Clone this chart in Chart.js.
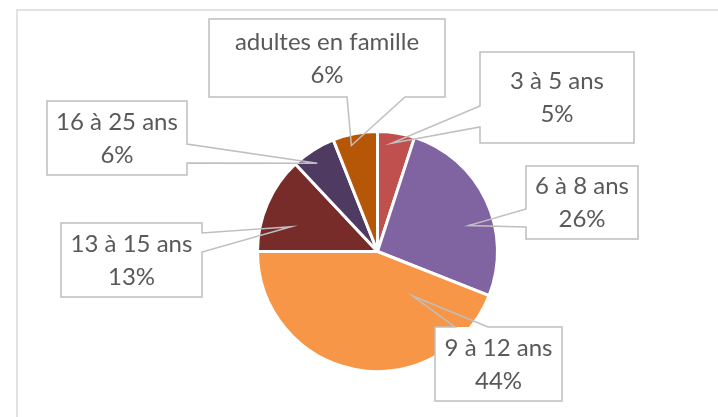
<!DOCTYPE html>
<html>
<head>
<meta charset="utf-8">
<script src="https://cdn.jsdelivr.net/npm/chart.js@4"></script>
<style>
  html, body { margin: 0; padding: 0; background: #fff; }
  #wrap { width: 718px; height: 417px; position: relative; }
</style>
</head>
<body>
<div id="wrap"><canvas id="chart"></canvas></div>
<script>
// données
const categories = ['3 à 5 ans', '6 à 8 ans', '9 à 12 ans', '13 à 15 ans', '16 à 25 ans', 'adultes en famille'];
const shares = [5, 26, 44, 13, 6, 6];
const sliceColors = ['#C0504D', '#8064A2', '#F79646', '#772C2A', '#4F3B62', '#B65708'];

// placement des étiquettes (boîte + point d'ancrage dans la part)
// side = côté de la boîte d'où part la flèche, a/b = début/fin de la base
const calloutLayout = [
  { x: 480, y: 52,  w: 154, h: 91, side: 'left',   a: 106, b: 127, frac: 0.41, rf: 0.91 },
  { x: 526, y: 166, w: 112, h: 73, side: 'left',   a: 209, b: 227, frac: 0.60, rf: 0.79 },
  { x: 435, y: 327, w: 127, h: 74, side: 'top',    a: 455, b: 488, frac: 0.19, rf: 0.47 },
  { x: 61,  y: 223, w: 141, h: 74, side: 'right',  a: 233, b: 252, frac: 0.34, rf: 0.75 },
  { x: 47,  y: 101, w: 140, h: 74, side: 'right',  a: 144, b: 163, frac: 0.41, rf: 0.89 },
  { x: 209, y: 19,  w: 236, h: 78, side: 'bottom', a: 347, b: 405, frac: 0.36, rf: 0.91 }
];

const frame = {
  id: 'frame',
  beforeDraw(chart) {
    const ctx = chart.ctx;
    ctx.save();
    ctx.strokeStyle = '#d9d9d9';
    ctx.lineWidth = 1.5;
    ctx.strokeRect(17, 10, 800, 500);
    ctx.restore();
  }
};

const callouts = {
  id: 'callouts',
  afterDatasetsDraw(chart) {
    const ctx = chart.ctx;
    const arcs = chart.getDatasetMeta(0).data;
    const total = shares.reduce((s, v) => s + v, 0);
    ctx.save();
    arcs.forEach((arc, i) => {
      const L = calloutLayout[i];
      const p = arc.getProps(['x', 'y', 'startAngle', 'endAngle', 'outerRadius'], true);
      const ang = p.startAngle + L.frac * (p.endAngle - p.startAngle);
      const ax = p.x + Math.cos(ang) * p.outerRadius * L.rf;
      const ay = p.y + Math.sin(ang) * p.outerRadius * L.rf;

      const l = L.x, t = L.y, r = L.x + L.w, bt = L.y + L.h;
      let pts;
      if (L.side === 'left') pts = [[l, t], [r, t], [r, bt], [l, bt], [l, L.b], [ax, ay], [l, L.a]];
      else if (L.side === 'right') pts = [[l, t], [r, t], [r, L.a], [ax, ay], [r, L.b], [r, bt], [l, bt]];
      else if (L.side === 'top') pts = [[l, t], [L.a, t], [ax, ay], [L.b, t], [r, t], [r, bt], [l, bt]];
      else pts = [[l, t], [r, t], [r, bt], [L.b, bt], [ax, ay], [L.a, bt], [l, bt]];

      ctx.fillStyle = '#ffffff';
      ctx.fillRect(l, t, L.w, L.h);
      ctx.beginPath();
      pts.forEach((pt, k) => k ? ctx.lineTo(pt[0], pt[1]) : ctx.moveTo(pt[0], pt[1]));
      ctx.closePath();
      ctx.strokeStyle = '#bfbfbf';
      ctx.lineWidth = 1.5;
      ctx.stroke();

      ctx.fillStyle = '#595959';
      ctx.font = '24px Lato';
      ctx.textAlign = 'center';
      ctx.textBaseline = 'middle';
      const cx = l + L.w / 2, cy = t + L.h / 2;
      ctx.fillText(categories[i], cx, cy - 16);
      ctx.fillText(Math.round(shares[i] / total * 100) + '%', cx, cy + 17);
    });
    ctx.restore();
  }
};

new Chart(document.getElementById('chart'), {
  type: 'pie',
  data: {
    labels: categories,
    datasets: [{
      data: shares,
      backgroundColor: sliceColors,
      borderColor: '#ffffff',
      borderWidth: 3
    }]
  },
  options: {
    responsive: true,
    maintainAspectRatio: false,
    animation: false,
    layout: { padding: { left: 256, top: 130, right: 219, bottom: 44 } },
    plugins: {
      legend: { display: false },
      tooltip: { enabled: false }
    }
  },
  plugins: [frame, callouts]
});
</script>
</body>
</html>
